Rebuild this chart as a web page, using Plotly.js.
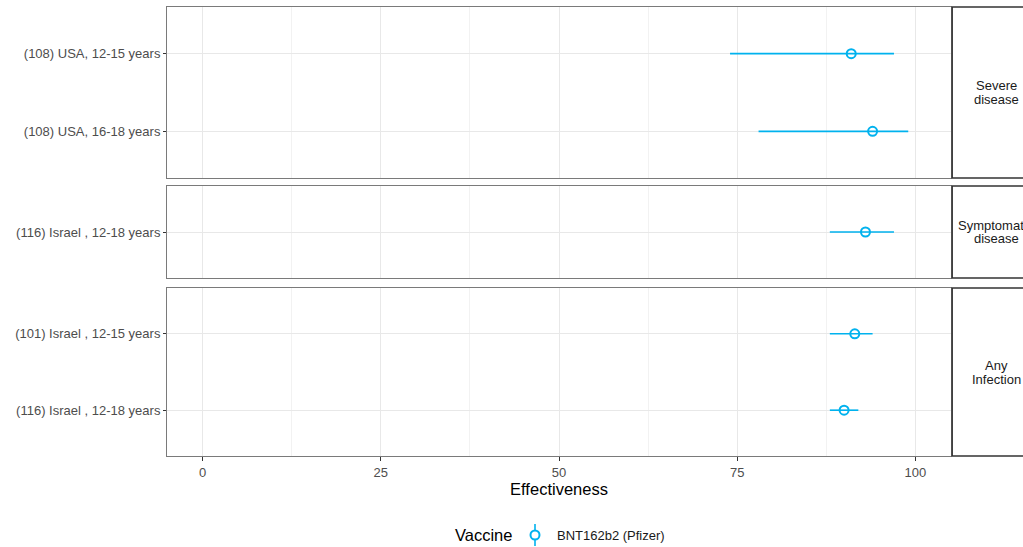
<!DOCTYPE html>
<html>
<head>
<meta charset="utf-8">
<script src="https://cdn.plot.ly/plotly-3.0.1.min.js"></script>
<style>html,body{margin:0;padding:0;background:#fff;}#chart{width:1023px;height:547px;}</style>
</head>
<body>
<div id="chart"></div>
<script>
// ---- data ----
const studies = ['(108) USA, 12-15 years', '(108) USA, 16-18 years', '(116) Israel , 12-18 years', '(101) Israel , 12-15 years', '(116) Israel , 12-18 years'];
const outcomes = ['Severe disease', 'Severe disease', 'Symptomatic disease', 'Any Infection', 'Any Infection'];
const effectiveness = [91, 94, 93, 91.5, 90];
const lowerCI = [74, 78, 88, 88, 88];
const upperCI = [97, 99, 97, 94, 92];
const panels = ['Severe disease', 'Symptomatic disease', 'Any Infection'];
const panelLabelLines = [['Severe', 'disease'], ['Symptomatic', 'disease'], ['Any', 'Infection']];
const vaccine = 'BNT162b2 (Pfizer)';
const xTicks = [0, 25, 50, 75, 100];

// ---- layout geometry ----
const W = 1023, H = 547;
const L = 167, R = 951, T = 7, B = 456;
const pw = R - L, ph = B - T;
const panelPx = [[7, 178], [186, 278], [288, 456]];
const col = '#00B2EE';
const font = 'Liberation Sans, Arial, sans-serif';

const traces = [];
const layout = {
  width: W, height: H,
  margin: {l: L, r: W - R, t: T, b: H - B, pad: 0},
  paper_bgcolor: '#fff', plot_bgcolor: '#fff',
  showlegend: false,
  font: {family: font, color: '#1a1a1a'},
  shapes: [], annotations: []
};

panels.forEach((p, k) => {
  const idx = outcomes.map((o, i) => o === p ? i : -1).filter(i => i >= 0);
  const n = idx.length;
  const ys = idx.map((_, j) => n - j);
  const suf = k === 0 ? '' : String(k + 1);
  traces.push({
    type: 'scatter', mode: 'markers',
    x: idx.map(i => effectiveness[i]),
    y: ys,
    xaxis: 'x' + suf, yaxis: 'y' + suf,
    name: vaccine,
    marker: {symbol: 'circle-open', size: 9, color: col, line: {width: 2, color: col}},
    error_x: {
      type: 'data', symmetric: false,
      array: idx.map(i => upperCI[i] - effectiveness[i]),
      arrayminus: idx.map(i => effectiveness[i] - lowerCI[i]),
      width: 0, thickness: 1.6, color: col
    },
    hoverinfo: 'x+y'
  });
  const d0 = (B - panelPx[k][1]) / ph, d1 = (B - panelPx[k][0]) / ph;
  const isBottom = k === panels.length - 1;
  layout['xaxis' + suf] = {
    domain: [0, 1], anchor: 'y' + suf, range: [-5, 105],
    matches: k === 0 ? undefined : 'x',
    tickvals: xTicks, ticktext: xTicks.map(String),
    showticklabels: isBottom, ticks: isBottom ? 'outside' : '', ticklen: 4, tickcolor: '#333', tickwidth: 1,
    tickfont: {size: 13, color: '#4d4d4d', family: font},
    showgrid: true, gridcolor: '#e8e8e8', gridwidth: 1,
    minor: {dtick: 12.5, tick0: 12.5, showgrid: true, gridcolor: '#f2f2f2', gridwidth: 1},
    showline: true, mirror: true, linecolor: '#7a7a7a', linewidth: 1,
    zeroline: false,
    title: isBottom ? {text: 'Effectiveness', font: {size: 16.5, color: '#000', family: font}, standoff: 4} : {text: ''}
  };
  layout['yaxis' + suf] = {
    domain: [d0, d1], anchor: 'x' + suf, range: [0.4, n + 0.6],
    tickvals: ys, ticktext: idx.map(i => studies[i]),
    ticks: 'outside', ticklen: 3, tickcolor: '#333', tickwidth: 1,
    tickfont: {size: 13, color: '#4d4d4d', family: font},
    showgrid: true, gridcolor: '#e8e8e8', gridwidth: 1,
    showline: true, mirror: true, linecolor: '#7a7a7a', linewidth: 1,
    zeroline: false, fixedrange: true
  };
  // strip
  layout.shapes.push({type: 'rect', xref: 'paper', yref: 'paper', x0: 1.0015, x1: 1.2, y0: d0, y1: d1,
    line: {color: '#333', width: 1.5}, fillcolor: 'rgba(0,0,0,0)', layer: 'above'});
  const yc = (d0 + d1) / 2;
  panelLabelLines[k].forEach((t, j) => {
    layout.annotations.push({xref: 'paper', yref: 'paper', x: (996 - L) / pw, y: yc + (j === 0 ? 7 : -7) / ph,
      text: t, showarrow: false, xanchor: 'center', yanchor: 'middle',
      font: {size: 13, color: '#1a1a1a', family: font}, align: 'center'});
  });
});

// legend (manual, ggplot style below)
const ly = (B - 535) / ph;
layout.annotations.push({xref: 'paper', yref: 'paper', x: (514 - L) / pw, y: ly, xanchor: 'right', yanchor: 'middle',
  text: 'Vaccine', showarrow: false, font: {size: 16.5, color: '#000', family: font}});
layout.annotations.push({xref: 'paper', yref: 'paper', x: (555 - L) / pw, y: ly, xanchor: 'left', yanchor: 'middle',
  text: vaccine, showarrow: false, font: {size: 13, color: '#1a1a1a', family: font}});
const kx = (535 - L) / pw;
layout.shapes.push({type: 'line', xref: 'paper', yref: 'paper', x0: kx, x1: kx, y0: (B - 524) / ph, y1: (B - 546) / ph,
  line: {color: col, width: 1.6}});
layout.shapes.push({type: 'circle', xref: 'paper', yref: 'paper', xsizemode: 'pixel', ysizemode: 'pixel',
  xanchor: kx, yanchor: ly, x0: -4.5, x1: 4.5, y0: -4.5, y1: 4.5,
  line: {color: col, width: 2}, fillcolor: '#fff'});

Plotly.newPlot('chart', traces, layout, {displayModeBar: false, staticPlot: true});
</script>
</body>
</html>
